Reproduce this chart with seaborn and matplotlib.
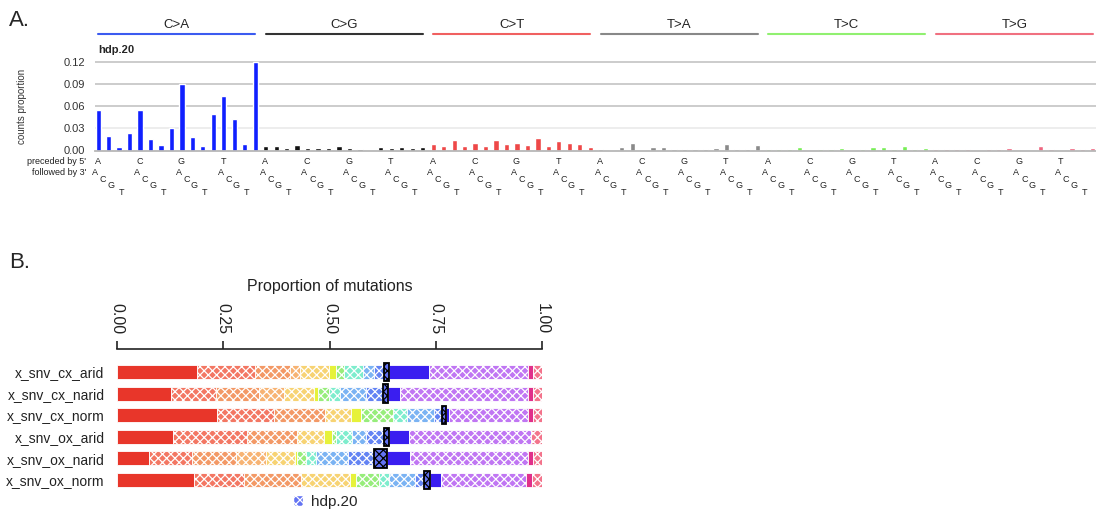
import numpy as np
import pandas as pd
import matplotlib
matplotlib.use("Agg")
import matplotlib.pyplot as plt
import matplotlib.colors as mcolors
from matplotlib.patches import Patch
import seaborn as sns

sns.set_style("white")
plt.rcParams['font.family'] = ['Liberation Sans', 'DejaVu Sans']
plt.rcParams['hatch.linewidth'] = 0.9

# ---------------- Panel A data ----------------
mut_types = ['C>A', 'C>G', 'C>T', 'T>A', 'T>C', 'T>G']
bases = ['A', 'C', 'G', 'T']
ca_vals = [0.055, 0.019, 0.005, 0.024, 0.055, 0.016, 0.007, 0.030,
           0.090, 0.018, 0.006, 0.049, 0.073, 0.042, 0.009, 0.120]
cg_vals = [0.0065, 0.0065, 0.0027, 0.007, 0.003, 0.003, 0.0027, 0.0065,
           0.003, 0.0015, 0.0, 0.005, 0.0027, 0.005, 0.0027, 0.0053]
ct_vals = [0.0085, 0.0067, 0.0138, 0.0067, 0.0107, 0.0067, 0.0147, 0.0085,
           0.010, 0.007, 0.0165, 0.0067, 0.013, 0.010, 0.0085, 0.005]
ta_vals = [0.002, 0.001, 0.0045, 0.010, 0.0005, 0.0045, 0.0045, 0.002,
           0.002, 0.002, 0.002, 0.003, 0.009, 0.002, 0.002, 0.0075]
tc_vals = [0.0015, 0.0015, 0.002, 0.0045, 0.0, 0.0015, 0.002, 0.0035,
           0.001, 0.002, 0.0045, 0.0045, 0.0015, 0.0067, 0.002, 0.0035]
tg_vals = [0.002, 0.0015, 0.002, 0.0025, 0.0, 0.002, 0.0015, 0.004,
           0.0, 0.0, 0.0055, 0.0015, 0.001, 0.003, 0.002, 0.003]
bar_colors = ['#1020ff', '#111111', '#ee4848', '#8a8a8a', '#77ee55', '#ee6680']
line_colors = ['#3b5bf0', '#333333', '#f06060', '#888888', '#90f070', '#f07080']
y_ticks_a = [0.0, 0.03, 0.06, 0.09, 0.12]
signature_name = 'hdp.20'

# ---------------- Panel B data ----------------
samples = ['x_snv_cx_arid', 'x_snv_cx_narid', 'x_snv_cx_norm',
           'x_snv_ox_arid', 'x_snv_ox_narid', 'x_snv_ox_norm']
comp_colors = ['#e8362a', '#f0553c', '#f08040', '#f5a050', '#f5c850', '#e6f23a',
               '#7de85a', '#5ee8c0', '#5aa0f0', '#3c64f0', '#3c50f0', '#3a1ef0',
               '#b054f0', '#e0308a', '#f0506e']
comp_solid = [True, False, False, False, False, True,
              False, False, False, False, False, True,
              False, True, False]
boxed_comp = 10
cx_arid = [0.189, 0.136, 0.082, 0.023, 0.068, 0.017, 0.018, 0.045, 0.027, 0.024, 0.012, 0.094, 0.231, 0.012, 0.022]
cx_narid = [0.126, 0.108, 0.100, 0.058, 0.071, 0.010, 0.026, 0.025, 0.063, 0.039, 0.011, 0.029, 0.300, 0.012, 0.022]
cx_norm = [0.236, 0.134, 0.120, 0.000, 0.060, 0.024, 0.076, 0.033, 0.063, 0.019, 0.010, 0.007, 0.184, 0.013, 0.021]
ox_arid = [0.132, 0.173, 0.118, 0.000, 0.063, 0.019, 0.010, 0.038, 0.034, 0.042, 0.012, 0.046, 0.288, 0.000, 0.025]
ox_narid = [0.075, 0.101, 0.105, 0.069, 0.069, 0.004, 0.021, 0.025, 0.075, 0.060, 0.031, 0.055, 0.278, 0.010, 0.022]
ox_norm = [0.180, 0.118, 0.134, 0.000, 0.117, 0.013, 0.054, 0.025, 0.059, 0.023, 0.013, 0.027, 0.199, 0.014, 0.024]
x_ticks_b = [0.0, 0.25, 0.5, 0.75, 1.0]

W, H = 1096, 512
fig = plt.figure(figsize=(W / 100, H / 100), dpi=100)

# ================= Panel A =================
a_left, a_right, a_top, a_bot = 95, 1096, 61, 150.5
axA = fig.add_axes([a_left / W, 1 - a_bot / H, (a_right - a_left) / W, (a_bot - a_top) / H])
all_vals = ca_vals + cg_vals + ct_vals + ta_vals + tc_vals + tg_vals
n = len(all_vals)
dfA = pd.DataFrame({
    'pos': np.arange(n),
    'value': all_vals,
    'type': np.repeat(mut_types, 16),
})
sns.barplot(data=dfA, x='pos', y='value', hue='type', hue_order=mut_types,
            palette=dict(zip(mut_types, bar_colors)), order=list(range(n)),
            dodge=False, width=0.5, saturation=1, legend=False, ax=axA)
axA.set_xlim(-0.3, n - 0.7)
axA.set_ylim(0, 0.1207)
axA.set_yticks(y_ticks_a)
axA.set_yticklabels([f'{v:.2f}' for v in y_ticks_a])
axA.set_xticks([])
axA.set_xlabel('')
axA.set_ylabel('')
axA.yaxis.grid(True, color='#c8c8c8', lw=1.3)
axA.set_axisbelow(True)
for g in axA.get_ygridlines()[:2]:
    g.set_color('#ececec')
for s in ['left', 'top', 'right']:
    axA.spines[s].set_visible(False)
axA.spines['bottom'].set_color('#b8b8b8')
axA.spines['bottom'].set_linewidth(1.3)
axA.tick_params(axis='y', length=0, pad=7, labelsize=8, labelcolor='#333333')

trA = axA.get_xaxis_transform()
for k, t in enumerate(mut_types):
    x0, x1 = 16 * k, 16 * k + 15
    axA.plot([x0, x1], [1.305, 1.305], color=line_colors[k], lw=1.5,
             transform=trA, clip_on=False)
    axA.text((x0 + x1) / 2, 1.33, t, ha='center', va='bottom', fontsize=9.5,
             color='#222222', transform=trA)
    for j, b in enumerate(bases):
        axA.text(16 * k + 4 * j - 0.05, -0.125, b, ha='center', va='center',
                 fontsize=6.5, color='#222222', transform=trA)
        for i, (dx, yy) in enumerate(zip([-0.3, 0.45, 1.2, 2.2],
                                         [-0.245, -0.32, -0.39, -0.465])):
            axA.text(16 * k + 4 * j + dx, yy, bases[i], ha='center', va='center',
                     fontsize=6.5, color='#222222', transform=trA)

axA.text(-0.009, -0.125, "preceded by 5'", ha='right', va='center', fontsize=6.5,
         color='#222222', transform=axA.transAxes)
axA.text(-0.009, -0.25, "followed by 3'", ha='right', va='center', fontsize=6.5,
         color='#222222', transform=axA.transAxes)
axA.text(0.003, 1.07, signature_name, ha='left', va='bottom', fontsize=8,
         fontweight='bold', transform=axA.transAxes)
fig.text(22 / W, 1 - 106 / H, 'counts proportion', rotation=90, ha='center',
         va='center', fontsize=7, color='#333333')
fig.text(9 / W, 1 - 21 / H, 'A.', ha='left', va='center', fontsize=16)
fig.text(9 / W, 1 - 262 / H, 'B.', ha='left', va='center', fontsize=16)

# ================= Panel B =================
b_left, b_right, b_top, b_bot = 117, 542, 349, 493
axB = fig.add_axes([b_left / W, 1 - b_bot / H, (b_right - b_left) / W, (b_bot - b_top) / H])
mat = np.array([cx_arid, cx_narid, cx_norm, ox_arid, ox_narid, ox_norm])
starts = np.cumsum(mat, axis=1) - mat

def light(c, f=0.2):
    r = np.array(mcolors.to_rgb(c))
    return tuple(r + (1 - r) * f)

draw_order = [k for k in range(mat.shape[1]) if k != boxed_comp] + [boxed_comp]
for k in draw_order:
    dfB = pd.DataFrame({'sample': samples, 'prop': mat[:, k]})
    kw = dict(data=dfB, x='prop', y='sample', order=samples, orient='h',
              saturation=1, errorbar=None, ax=axB, left=starts[:, k])
    if k == boxed_comp:
        sns.barplot(width=0.85, color=comp_colors[k],
                    facecolor=light(comp_colors[k], 0.2), edgecolor='black',
                    hatch='xxxx', linewidth=1.3, **kw)
    elif comp_solid[k]:
        sns.barplot(width=0.65, color=comp_colors[k], facecolor=comp_colors[k],
                    edgecolor='white', linewidth=0.6, **kw)
    else:
        sns.barplot(width=0.65, color=comp_colors[k],
                    facecolor=light(comp_colors[k], 0.2), edgecolor='white',
                    hatch='xxxx', linewidth=0.6, **kw)

axB.set_xlim(0, 1.0)
axB.set_ylim(5.6, -1.065)
axB.xaxis.tick_top()
axB.xaxis.set_label_position('top')
axB.set_xticks(x_ticks_b)
axB.set_xticklabels([f'{v:.2f}' for v in x_ticks_b], rotation=-90)
axB.set_xlabel('Proportion of mutations', fontsize=11.5, labelpad=8, color='#222222')
axB.set_ylabel('')
for s in ['left', 'bottom', 'right']:
    axB.spines[s].set_visible(False)
axB.spines['top'].set_color('#222222')
axB.spines['top'].set_linewidth(1.2)
axB.tick_params(axis='x', direction='out', length=6, width=1.2, pad=5,
                labelsize=11.5, colors='#222222')
axB.tick_params(axis='y', length=0, pad=9, labelsize=10, labelcolor='#222222')

handle = Patch(facecolor=light('#3c50f0', 0.2), edgecolor='white', hatch='xxxx',
               label=signature_name)
fig.legend(handles=[handle], loc='center', bbox_to_anchor=(325 / W, 1 - 502 / H),
           frameon=False, fontsize=11, handlelength=0.7, handleheight=0.7,
           handletextpad=0.5)

fig.savefig('out.png', dpi=100)
